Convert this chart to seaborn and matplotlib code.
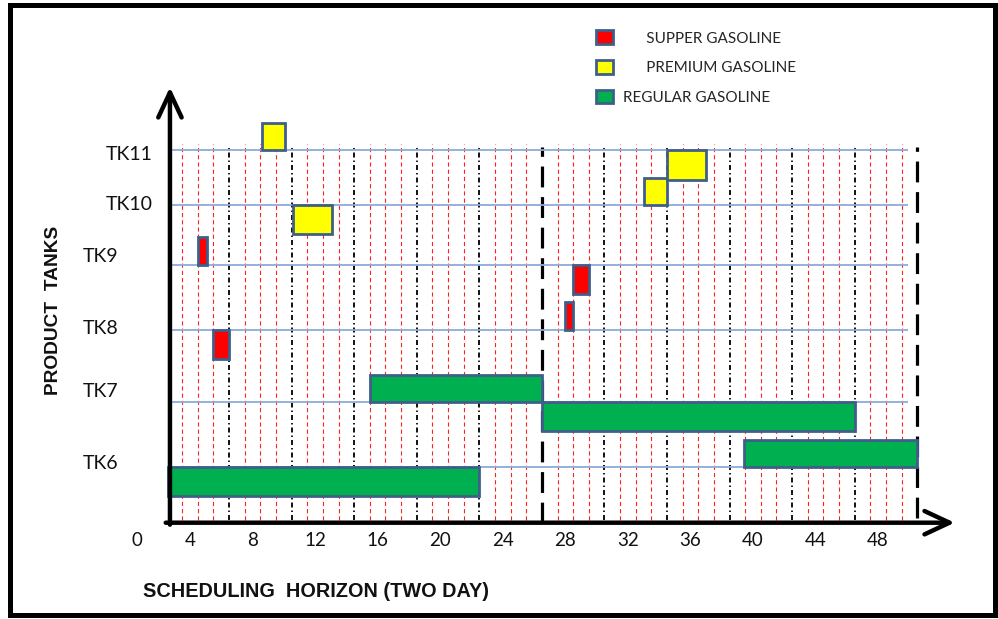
import matplotlib
matplotlib.use("Agg")
import matplotlib.pyplot as plt
from matplotlib.patches import Patch, Rectangle
import numpy as np
import seaborn as sns

# ---- data ----
tanks = ["TK6", "TK7", "TK8", "TK9", "TK10", "TK11"]
products = ["SUPPER GASOLINE", "PREMIUM GASOLINE", "REGULAR GASOLINE"]

task_tank = ["TK9", "TK8", "TK8", "TK9",
             "TK11", "TK10", "TK10", "TK11",
             "TK6", "TK7", "TK7", "TK6"]
task_product = ["SUPPER GASOLINE"] * 4 + ["PREMIUM GASOLINE"] * 4 + ["REGULAR GASOLINE"] * 4
task_start = [4.5, 5.5, 28.0, 28.5, 8.6, 10.6, 33.0, 34.5, 2.6, 15.5, 26.5, 39.4]
task_end = [5.1, 6.5, 28.5, 29.5, 10.1, 13.1, 34.5, 37.0, 22.5, 26.5, 46.5, 50.5]
task_side = ["up", "down", "up", "down", "up", "down", "up", "down", "down", "up", "down", "up"]

hour_ticks = [0, 4, 8, 12, 16, 20, 24, 28, 32, 36, 40, 44, 48]

# ---- style ----
sns.set_theme(style="white")
plt.rcParams["font.family"] = ["Lato", "DejaVu Sans"]
plt.rcParams["lines.scale_dashes"] = False

colors = {"SUPPER GASOLINE": "#FF0000",
          "PREMIUM GASOLINE": "#FFFF00",
          "REGULAR GASOLINE": "#00B050"}
edge = "#3F5F8A"

# hand drawn layout: tank baselines are not evenly spaced
tank_level = {"TK6": 0.86, "TK7": 1.86, "TK8": 2.97, "TK9": 3.97, "TK10": 4.89, "TK11": 5.73}
tank_label = {"TK6": (-0.6, 0.91), "TK7": (-0.6, 2.02), "TK8": (-0.6, 2.99),
              "TK9": (-0.6, 4.09), "TK10": (1.64, 4.89), "TK11": (1.64, 5.66)}

fig = plt.figure(figsize=(9.98, 6.19), dpi=100)
ax = fig.add_axes([0.11199, 0.15557, 0.84625, 0.70880])
ax.set_xlim(-1, 53)
ax.set_ylim(0, 6.75)
for s in ax.spines.values():
    s.set_visible(False)

# vertical grid: one line per hour slot
grid = np.arange(3.5, 51.0, 1.0)
red = [g for g in grid if (g - 6.5) % 4 != 0]
black = [g for g in grid if (g - 6.5) % 4 == 0 and g not in (26.5, 50.5)]
ax.vlines(red, 0.04, 5.82, colors="#FF2020", lw=0.8, linestyles=[(0, (3, 2.2))], zorder=1)
ax.vlines(black, 0.04, 5.79, colors="#111111", lw=1.4, linestyles=[(0, (3.6, 2.2, 1, 2.2))], zorder=1)
ax.vlines([26.5, 50.5], [0.0, 0.08], 5.78, colors="black", lw=2.3,
          linestyles=[(0, (15, 7))], zorder=2)

# tank baselines
for t in tanks:
    ax.hlines(tank_level[t], 2.72, 49.9, colors="#8EAADB", lw=1.3, zorder=2)
    lx, ly = tank_label[t]
    ax.text(lx, ly, t, ha="right", va="center", fontsize=14, color="#111111")

# operations
for t, p, s, e, side in zip(task_tank, task_product, task_start, task_end, task_side):
    h = 0.42 if side == "up" else 0.45
    bottom = tank_level[t] if side == "up" else tank_level[t] - h
    ax.barh(bottom, e - s, height=h, left=s, align="edge", color=colors[p],
            edgecolor=edge, linewidth=2, zorder=4, clip_on=False)

# axes with arrows
arrow = dict(arrowstyle="->,head_length=1.5,head_width=0.7", lw=3.2, color="black",
             shrinkA=0, shrinkB=0)
ax.annotate("", xy=(52.9, 0), xytext=(2.45, 0), arrowprops=arrow, annotation_clip=False, zorder=5)
ax.annotate("", xy=(2.72, 6.7), xytext=(2.72, -0.03), arrowprops=arrow, annotation_clip=False, zorder=5)

ax.set_yticks([])
ax.set_xticks([v if v else 0.6 for v in hour_ticks], [str(v) for v in hour_ticks])
ax.tick_params(axis="x", length=0, pad=7, labelsize=13.5, labelcolor="#111111")

bold = ["Liberation Sans", "DejaVu Sans"]
ax.set_xlabel("SCHEDULING  HORIZON (TWO DAY)", fontsize=14.3, fontweight="bold", va="center",
              family=bold, color="#111111")
ax.xaxis.set_label_coords(0.2418, -0.157)
ax.set_ylabel("PRODUCT  TANKS", fontsize=13.8, fontweight="bold", va="center",
              family=bold, color="#111111")
ax.yaxis.set_label_coords(-0.0684, 0.4848)

# legend at the top
pad = {"SUPPER GASOLINE": "      ", "PREMIUM GASOLINE": "      ", "REGULAR GASOLINE": ""}
handles = [Patch(facecolor=colors[p], edgecolor=edge, linewidth=2) for p in products]
fig.legend(handles, [pad[p] + p for p in products], loc="upper left",
           bbox_to_anchor=(596 / 998, 1 - 30.5 / 619), frameon=False, fontsize=11,
           handlelength=1.1, handleheight=1.0, handletextpad=0.65, labelspacing=0.95,
           borderpad=0, borderaxespad=0)

# frame around the picture
fig.patches.append(Rectangle((9.5 / 998, 4.5 / 619), 985 / 998, 610 / 619,
                             transform=fig.transFigure, fill=False, lw=3.6,
                             edgecolor="black"))

fig.savefig("out.png", dpi=100)
